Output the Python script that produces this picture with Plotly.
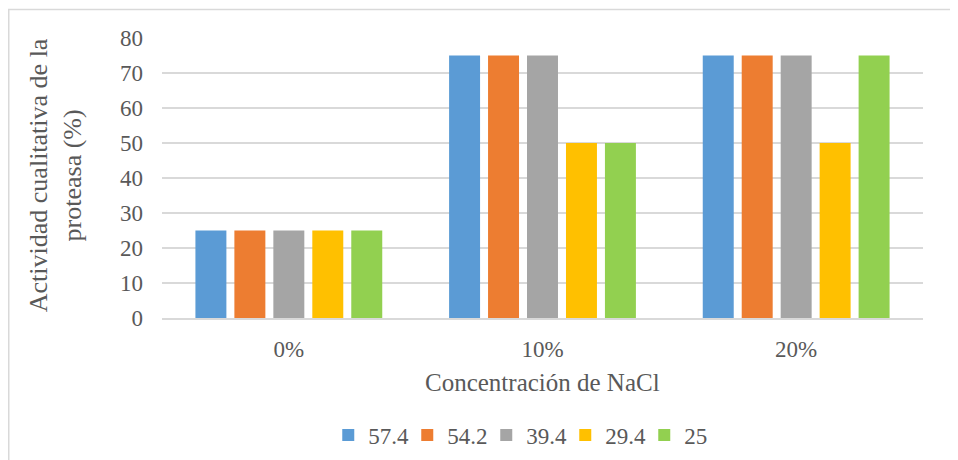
import plotly.graph_objects as go

# data
categories = ['0%', '10%', '20%']
series_names = ['57.4', '54.2', '39.4', '29.4', '25']
s_57_4 = [25, 75, 75]
s_54_2 = [25, 75, 75]
s_39_4 = [25, 75, 75]
s_29_4 = [25, 50, 50]
s_25 = [25, 50, 75]
y_ticks = [0, 10, 20, 30, 40, 50, 60, 70, 80]

colors = ['#5B9BD5', '#ED7D31', '#A5A5A5', '#FFC000', '#92D050']
font_family = 'Liberation Serif, Times New Roman, serif'
text_color = '#595959'
grid_color = '#D9D9D9'

fig = go.Figure()

for name, vals, col in zip(series_names, [s_57_4, s_54_2, s_39_4, s_29_4, s_25], colors):
    fig.add_trace(go.Bar(
        x=categories,
        y=vals,
        name=name,
        marker=dict(color=col, line=dict(width=0))
    ))

# page body adds an 8px offset, margins account for it
fig.update_layout(
    width=958,
    height=460,
    margin=dict(l=154, r=43, t=30, b=150, autoexpand=False),
    paper_bgcolor='white',
    plot_bgcolor='white',
    barmode='group',
    bargap=0.232,
    bargroupgap=0.205,
    font=dict(family=font_family, size=23, color=text_color),
    showlegend=True,
    legend=dict(
        orientation='h',
        x=0.478,
        xanchor='center',
        y=-0.418,
        yanchor='middle',
        font=dict(family=font_family, size=23, color=text_color),
        itemwidth=30,
        entrywidth=34,
        traceorder='normal'
    ),
    xaxis=dict(
        showgrid=False,
        showline=True,
        linecolor=grid_color,
        linewidth=1.5,
        ticks='',
        ticklabelstandoff=10,
        tickfont=dict(size=23)
    ),
    yaxis=dict(
        range=[0, 80],
        tickvals=y_ticks,
        showgrid=True,
        gridcolor=grid_color,
        gridwidth=1.5,
        zeroline=False,
        showline=False,
        ticks='',
        ticklabelstandoff=18,
        tickfont=dict(size=23)
    )
)

# axis titles
fig.add_annotation(
    text='Actividad cualitativa de la<br>proteasa (%)',
    xref='paper', yref='paper',
    x=-0.1406, y=0.51,
    xanchor='center', yanchor='middle',
    textangle=-90,
    showarrow=False,
    font=dict(size=26, color=text_color)
)
fig.add_annotation(
    text='Concentración de NaCl',
    xref='paper', yref='paper',
    x=0.5, y=-0.232,
    xanchor='center', yanchor='middle',
    showarrow=False,
    font=dict(size=25, color=text_color)
)

# chart area border
fig.add_shape(
    type='rect',
    xref='paper', yref='paper',
    x0=-0.2014, x1=1.2, y0=-0.6, y1=1.1018,
    line=dict(color=grid_color, width=1.5),
    layer='below'
)

fig.write_html('out.html')
